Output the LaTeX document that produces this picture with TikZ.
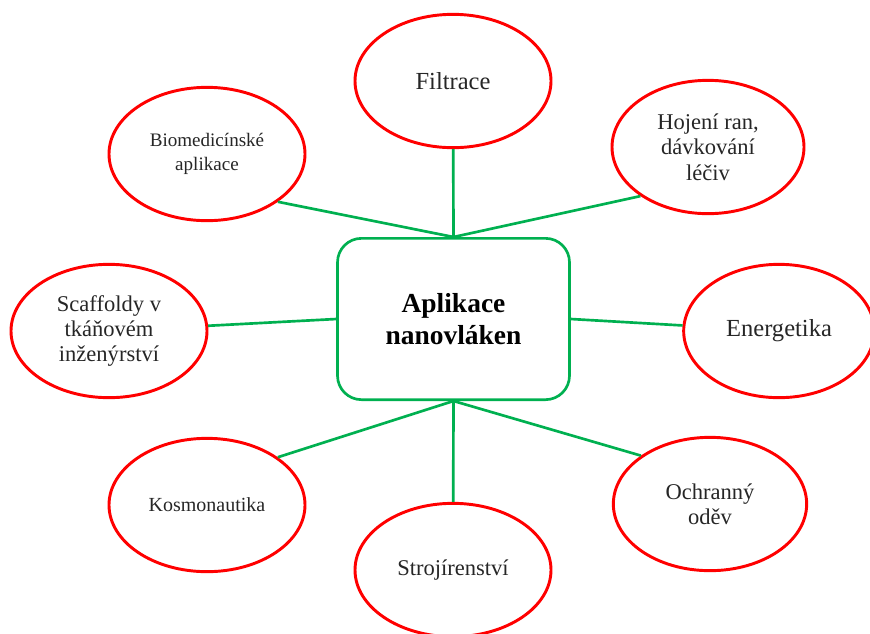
\documentclass[tikz,border=0pt]{standalone}
\usepackage{fontspec}
\setmainfont{Liberation Serif}
\usepackage{tikz}
\usetikzlibrary{ shapes.geometric }
\definecolor{ellred}{RGB}{255,0,0}
\definecolor{linkgreen}{RGB}{0,176,80}

\begin{document}
\begin{tikzpicture}[x=0.75pt, y=-0.75pt,
    appl/.style={ellipse, draw=ellred, line width=2.2pt, inner sep=0pt,
        minimum width=147pt, minimum height=100pt, align=center, text=black!85},
    hub/.style={rectangle, rounded corners=18pt, draw=linkgreen, line width=2pt,
        minimum width=174pt, minimum height=121pt, align=center,
        font=\fontsize{20.6}{23.5}\selectfont\bfseries},
    link/.style={draw=linkgreen, line width=2pt}]
        \useasboundingbox (0,0) rectangle (870,633);
        \node[hub] (center) at (453.5,319) {Aplikace\\nanovláken};
        \node[appl, font=\fontsize{18.4}{21}\selectfont] (filtr) at (453,81) {Filtrace};
        \node[appl, font=\fontsize{14.3}{18}\selectfont] (bio) at (207,154) {Biomedicínské\\aplikace};
        \node[appl, minimum width=144pt, font=\fontsize{16.9}{19}\selectfont] (hojeni) at (708,147) {Hojení ran,\\dávkování\\léčiv};
        \node[appl, font=\fontsize{16.9}{19}\selectfont] (scaff) at (109,331) {Scaffoldy v\\tkáňovém\\inženýrství};
        \node[appl, minimum width=143pt, font=\fontsize{18.4}{21}\selectfont] (energ) at (779,331) {Energetika};
        \node[appl, font=\fontsize{15}{18}\selectfont] (kosmo) at (207,505) {Kosmonautika};
        \node[appl, font=\fontsize{16.9}{19}\selectfont] (stroj) at (453,570) {Strojírenství};
        \node[appl, minimum width=145pt, font=\fontsize{16.9}{19}\selectfont] (odev) at (710,504) {Ochranný\\oděv};
        % spojnice
        \draw[link] (center.north) -- (filtr);
        \draw[link] (center.north) -- (bio.-34);
        \draw[link] (center.north) -- (hojeni.-144);
        \draw[link] (center.west) -- (scaff);
        \draw[link] (center.east) -- (energ);
        \draw[link] (center.south) -- (kosmo.34);
        \draw[link] (center.south) -- (stroj);
        \draw[link] (center.south) -- (odev.145);
    \end{tikzpicture}
\end{document}
